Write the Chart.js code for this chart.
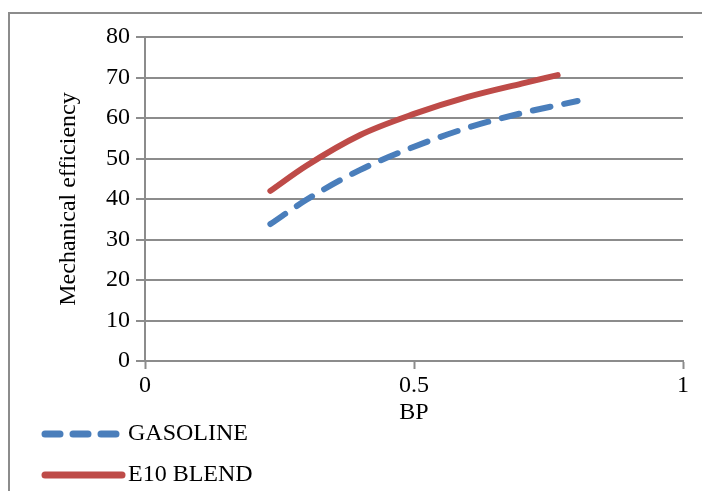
<!DOCTYPE html>
<html>
<head>
<meta charset="utf-8">
<script src="https://cdn.jsdelivr.net/npm/chart.js@4"></script>
<style>
  body { margin: 0; background: #fff; }
  #wrap { position: relative; width: 702px; height: 491px; overflow: hidden; }
  #frame { position: absolute; left: 8px; top: 12px; width: 720px; height: 520px;
           border-left: 2px solid #8c8c8c; border-top: 2px solid #8c8c8c; }
  canvas { position: absolute; left: 0; top: 0; }
</style>
</head>
<body>
<div id="wrap">
  <div id="frame"></div>
  <canvas id="myChart" width="702" height="491"></canvas>
</div>
<script>
// data
const gasolineBP = [0.233, 0.3, 0.4, 0.5, 0.6, 0.7, 0.804];
const gasolineEff = [33.8, 39.8, 47.2, 52.9, 57.6, 61.2, 64.2];
const e10BP = [0.233, 0.3, 0.4, 0.5, 0.6, 0.7, 0.767];
const e10Eff = [42.0, 48.2, 55.8, 61.0, 65.2, 68.5, 70.6];
const seriesNames = ["GASOLINE", "E10 BLEND"];

const toPoints = (xs, ys) => xs.map((x, i) => ({ x: x, y: ys[i] }));

const serif = "'Liberation Serif', 'Times New Roman', serif";
const gridGray = "#8c8c8c";

// legend drawn by hand, stacked in the lower left corner
const stackedLegend = {
  id: "stackedLegend",
  afterDraw(chart) {
    const ctx = chart.ctx;
    const rows = [434, 475];
    chart.data.datasets.forEach((ds, i) => {
      const y = rows[i];
      ctx.save();
      ctx.strokeStyle = ds.borderColor;
      ctx.lineWidth = 7;
      ctx.lineCap = "round";
      ctx.setLineDash(ds.borderDash.length ? [15, 13] : []);
      ctx.beginPath();
      ctx.moveTo(45, y);
      ctx.lineTo(i === 0 ? 118 : 122, y);
      ctx.stroke();
      ctx.restore();
      ctx.save();
      ctx.fillStyle = "#000";
      ctx.font = "24px " + serif;
      ctx.textBaseline = "middle";
      ctx.fillText(ds.label, 128, y);
      ctx.restore();
    });
  },
};

const ctx = document.getElementById("myChart");

new Chart(ctx, {
  type: "line",
  data: {
    datasets: [
      {
        label: seriesNames[0],
        data: toPoints(gasolineBP, gasolineEff),
        borderColor: "#4a7ebb",
        borderWidth: 6,
        borderDash: [18, 14],
        borderCapStyle: "round",
        pointRadius: 0,
        cubicInterpolationMode: "monotone",
        fill: false,
      },
      {
        label: seriesNames[1],
        data: toPoints(e10BP, e10Eff),
        borderColor: "#be4b48",
        borderWidth: 6,
        borderDash: [],
        borderCapStyle: "round",
        pointRadius: 0,
        cubicInterpolationMode: "monotone",
        fill: false,
      },
    ],
  },
  options: {
    responsive: false,
    animation: false,
    layout: {
      padding: { left: 0, right: 19, top: 37, bottom: 64 },
    },
    scales: {
      x: {
        type: "linear",
        min: 0,
        max: 1,
        grid: {
          drawOnChartArea: false, // only the little ticks below the axis
          tickColor: gridGray,
          tickWidth: 2,
          tickLength: 8,
        },
        border: { color: gridGray, width: 2 },
        ticks: {
          stepSize: 0.5,
          color: "#000",
          font: { size: 24, family: serif },
          padding: 2,
          callback: (v) => String(v),
        },
        title: {
          display: true,
          text: "BP",
          color: "#000",
          font: { size: 24, family: serif },
          padding: 0,
        },
        afterFit(scale) {
          scale.height = 66;
        },
      },
      y: {
        min: 0,
        max: 80,
        grid: {
          color: gridGray,
          lineWidth: 2,
          tickLength: 9,
        },
        border: { color: gridGray, width: 2 },
        ticks: {
          stepSize: 10,
          color: "#000",
          font: { size: 24, family: serif },
          padding: 6,
        },
        title: {
          display: true,
          text: "Mechanical efficiency",
          color: "#000",
          font: { size: 24, family: serif },
          padding: { top: 54, bottom: 0 },
        },
        afterFit(scale) {
          scale.width = 145;
        },
      },
    },
    plugins: {
      legend: { display: false },
      tooltip: { enabled: false },
    },
  },
  plugins: [stackedLegend],
});
</script>
</body>
</html>
